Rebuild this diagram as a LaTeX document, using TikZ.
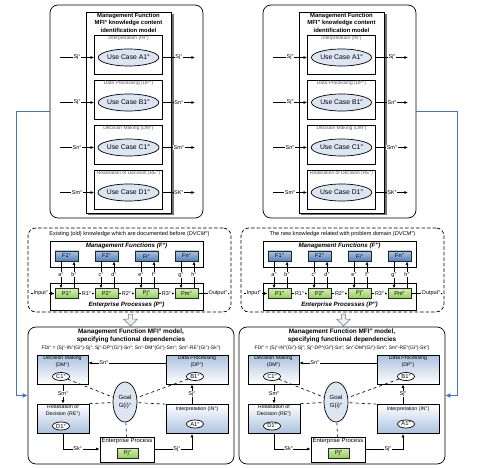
\documentclass[tikz,border=0pt]{standalone}
\usepackage{fontspec}
\setmainfont{Liberation Sans}
\usetikzlibrary{shapes.geometric, shapes.arrows, arrows.meta, positioning}
\definecolor{caseblue}{RGB}{220,230,242}
\definecolor{boxblue}{RGB}{170,194,224}
\definecolor{fblue}{RGB}{79,129,189}
\definecolor{pgreen}{RGB}{146,208,80}
\definecolor{linkblue}{RGB}{68,114,196}

\tikzset{
  tiny/.style={font=\fontsize{5.2}{6.4}\selectfont},
  small/.style={font=\fontsize{5.8}{7}\selectfont},
  usecase/.style={ellipse, draw, fill=caseblue, minimum width=55, minimum height=17, inner sep=0, font=\fontsize{6.8}{8}\selectfont},
  subbox/.style={draw, fill=white, minimum width=68, minimum height=39, inner sep=0},
  flow/.style={-{Latex[length=3.6pt,width=3pt]}, line width=0.75pt},
  lab/.style={fill=white, inner sep=0.6pt, font=\fontsize{5.5}{6}\selectfont},
  fbox/.style={draw=black!85, top color=fblue!45, bottom color=fblue, minimum width=23, minimum height=10, inner sep=0, font=\fontsize{5.6}{6}\selectfont},
  pbox/.style={draw=black!85, top color=pgreen!40, bottom color=pgreen, minimum width=23, minimum height=9.5, inner sep=0, font=\fontsize{5.6}{6}\selectfont},
  upbox/.style={draw, top color=boxblue, bottom color=white, inner sep=0},
  lowbox/.style={draw, top color=white, bottom color=boxblue, inner sep=0},
  small ell/.style={ellipse, draw, fill=white, minimum width=17, minimum height=8, inner sep=0, font=\fontsize{5.8}{6}\selectfont},
}

\begin{document}
\begin{tikzpicture}[x=1pt, y=-1pt, line width=0.7pt]
\useasboundingbox (0,0) rectangle (480,468);

\foreach \i/\dx/\s/\intro in {1/0/°/{Existing (old) knowledge which are documented before}, 2/213/″/{The new knowledge related with problem domain}} {

  % upper part: knowledge content identification model
  \node[draw, rounded corners=8pt, minimum width=153, minimum height=213, inner sep=0] (top\i) at (126.5+\dx,111.5) {};
  \fill[black!55] (88+\dx,14) rectangle (173.5+\dx,215.5);
  \node[draw, fill=white, minimum width=85, minimum height=201, inner sep=0] (mfi\i) at (128.5+\dx,112.5) {};
  \node[font=\fontsize{5.9}{7.9}\selectfont\bfseries, align=center, anchor=north, inner sep=0.8pt] at (mfi\i.north) {Management Function\\MFI\s{} knowledge content\\identification model};

  \foreach \r/\lab/\uc/\sin/\sout in {1/{Interpretation (IN\s)}/A1/Sj/Sj, 2/{Data Processing (DP\s)}/B1/Sj/Sn, 3/{Decision Making (DM\s)}/C1/Sn/Sm, 4/{Realisation of Decision (RE\s)}/D1/Sm/SK} {
    \node[subbox] (row\i\r) at (128.5+\dx,54.5+45*\r-45) {};
    \node[font=\fontsize{4.9}{6}\selectfont, anchor=north, text=black!65, inner sep=1.3pt] at (row\i\r.north) {\lab};
    \node[usecase] (uc\i\r) at (128.5+\dx,57.5+45*\r-45) {Use Case \uc\s};
    \coordinate (sin\i\r) at (60+\dx,57.5+45*\r-45);
    \coordinate (sout\i\r) at (195+\dx,57.5+45*\r-45);
    \draw[flow] (sin\i\r) -- node[lab] {\sin\s} (row\i\r.west |- uc\i\r);
    \draw[flow] (row\i\r.east |- uc\i\r) -- node[lab] {\sout\s} (sout\i\r);
  }

  % middle part: management functions and enterprise processes
  \node[draw, dash pattern=on 3.5pt off 2pt, rounded corners=8pt, minimum width=203, minimum height=84, inner sep=0] (dvcm\i) at (129.5+\dx,270) {};
  \node[font=\fontsize{5.6}{6}\selectfont] at (129.5+\dx,234) {\intro{} (\textit{DVCM\s})};
  \node[draw, minimum width=153, minimum height=26, inner sep=0] (mf\i) at (126.5+\dx,254) {};
  \node[font=\fontsize{6.2}{7}\selectfont\bfseries\itshape] at (126.5+\dx,246.3) {Management Functions (F\s)};
  \node[draw, minimum width=153, minimum height=27, inner sep=0] (ep\i) at (126.5+\dx,296.5) {};
  \node[font=\fontsize{6.2}{7}\selectfont\bfseries\itshape] at (126.5+\dx,304.8) {Enterprise Processes (P\s)};

  \foreach \k/\n in {1/1, 2/2, 3/i, 4/n} {
    \node[fbox] (f\i\k) at (26.5+40*\k+\dx,256) {F\n\s};
  }
  \foreach \k/\n/\da/\ua in {1/1/a/b, 2/2/c/d, 3/j/e/f, 4/m/g/h} {
    \node[pbox] (p\i\k) at (26.5+40*\k+\dx,293.5) {P\n\s};
    \draw[flow] ([xshift=-5.5pt]f\i\k.south) -- node[lab] {\da\s} ([xshift=-5.5pt]p\i\k.north);
    \draw[flow] ([xshift=7.5pt]p\i\k.north) -- node[lab] {\ua\s} ([xshift=7.5pt]f\i\k.south);
  }
  \coordinate (input\i) at (31+\dx,293.5);
  \coordinate (output\i) at (230+\dx,293.5);
  \draw[flow] (input\i) -- node[lab, pos=0.42] {Input\s} (p\i1);
  \draw[flow] (p\i1) -- node[lab] {R1\s} (p\i2);
  \draw[flow] (p\i2) -- node[lab] {R2\s} (p\i3);
  \draw[flow] (p\i3) -- node[lab] {R3\s} (p\i4);
  \draw[flow] (p\i4) -- node[lab, pos=0.62] {Output\s} (output\i);

  \node[single arrow, draw=black!55, line width=0.6pt, fill=caseblue!60, shape border rotate=270, minimum height=12, minimum width=14, single arrow head extend=3pt, inner sep=1pt] (down\i) at (130.5+\dx,319) {};
}

% lower part: functional dependencies
\foreach \i/\dx/\s in {1/0/°, 2/211/″} {
  \node[draw, rounded corners=8pt, minimum width=206, minimum height=137, inner sep=0] (fd\i) at (131+\dx,395.5) {};
  \node[font=\fontsize{6.4}{8}\selectfont\bfseries, align=center] at (131+\dx,336) {Management Function MFI\s{} model,\\specifying functional dependencies};
  \node[font=\fontsize{5}{6}\selectfont] at (131+\dx,348) {FDi\s{} = (Sj\s-IN\s(Gi\s)-Sj\s; Sj\s-DP\s(Gi\s)-Sn\s; Sn\s-DM\s(Gi\s)-Sm\s; Sm\s-RE\s(Gi\s)-Sk\s)};

  \node[upbox, minimum width=51, minimum height=29] (dm\i) at (62.5+\dx,369.5) {};
  \node[tiny, align=center, anchor=north, inner sep=1pt] at (dm\i.north) {Decision Making\\(DM\s)};
  \node[small ell] (c\i) at (61+\dx,376.5) {C1\s};

  \node[upbox, minimum width=62, minimum height=29] (dp\i) at (197+\dx,369.5) {};
  \node[tiny, align=center, anchor=north, inner sep=1pt] at (dp\i.north) {Data Processing\\(DP\s)};
  \node[small ell] (b\i) at (195+\dx,376.5) {B1\s};

  \node[lowbox, minimum width=52, minimum height=29] (re\i) at (63+\dx,418.5) {};
  \node[tiny, align=center, anchor=north, inner sep=1pt] at (re\i.north) {Realisation of\\Decision (RE\s)};
  \node[small ell] (d\i) at (61+\dx,426) {D1\s};

  \node[lowbox, minimum width=62, minimum height=29] (in\i) at (197+\dx,419) {};
  \node[tiny, anchor=north, inner sep=2.5pt] at (in\i.north) {Interpretation (IN\s)};
  \node[small ell] (a\i) at (195+\dx,424) {A1\s};

  \node[draw, fill=white, minimum width=54, minimum height=25, inner sep=0] (epr\i) at (127+\dx,449.5) {};
  \node[font=\fontsize{6}{7}\selectfont, anchor=north, inner sep=1.3pt] at (epr\i.north) {Enterprise Process};
  \node[pbox, minimum width=21, minimum height=10] (pj\i) at (127.5+\dx,453) {Pj\s};

  \node[ellipse, draw, fill=caseblue, minimum width=24, minimum height=40, inner sep=0, align=center, font=\fontsize{6}{8}\selectfont] (goal\i) at (125+\dx,402) {Goal\\G(i)\s};

  \draw[flow] (dp\i.west |- 0,363) -- node[lab, pos=0.8] {Sn\s} (dm\i.east |- 0,363);
  \draw[flow] (dm\i.south -| 63+\dx,0) -- node[lab] {Sm\s} (re\i.north -| 63+\dx,0);
  \draw[flow] (in\i.north -| 192+\dx,0) -- node[lab] {Sj\s} (dp\i.south -| 192+\dx,0);
  \draw[flow] (re\i.south -| 63+\dx,0) |- node[lab, pos=0.7] {Sk\s} (epr\i.west |- 0,449);
  \draw[flow] (epr\i.east |- 0,449) -| node[lab, pos=0.3] {Sj\s} (in\i.south -| 192+\dx,0);

  \draw[dashed, line width=0.65pt] (c\i) -- (goal\i);
  \draw[dashed, line width=0.65pt] (re\i.north east) -- (goal\i);
  \draw[dashed, line width=0.65pt] (b\i) -- (goal\i);
  \draw[dashed, line width=0.65pt] (in\i.north west) -- (goal\i);
  \draw[dashed, line width=0.65pt] (goal\i) -- (epr\i);
}

% links from identification models to dependency models
\draw[linkblue, line width=1.3pt, -{Latex[length=5pt,width=5pt]}] (top1.west) -- ++(-33,0) |- (fd1.west);
\draw[linkblue, line width=1.3pt, -{Latex[length=5pt,width=5pt]}] (top2.east) -- ++(41,0) |- (fd2.east);
\end{tikzpicture}
\end{document}
